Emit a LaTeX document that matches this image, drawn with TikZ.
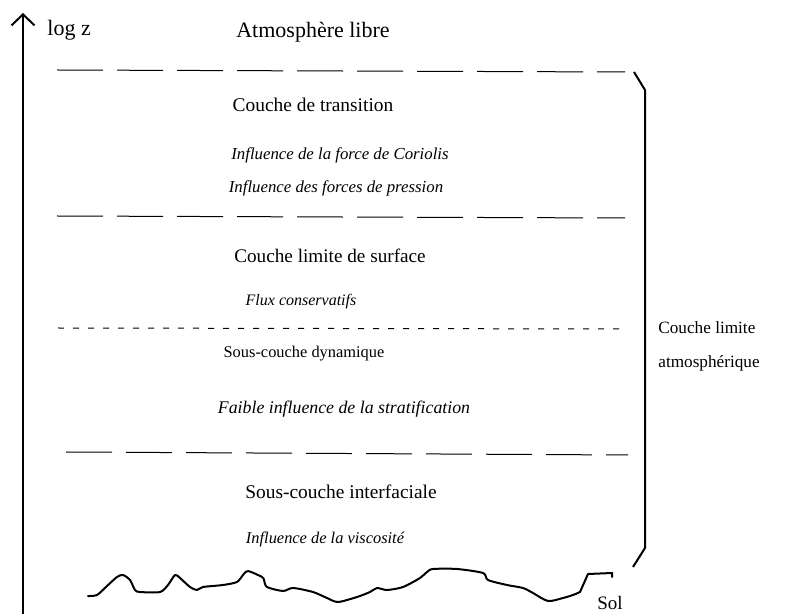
\documentclass[tikz,border=0pt]{standalone}
\usepackage{fontspec}
\setmainfont{Liberation Serif}
\usetikzlibrary{arrows.meta}

\begin{document}
\begin{tikzpicture}[
    x=0.5pt, y=-0.5pt,
    every node/.style={inner sep=0pt},
    layer/.style={anchor=base, font=\fontsize{#1}{12}\selectfont},
    effect/.style={anchor=base, font=\fontsize{#1}{12}\selectfont\itshape},
    side/.style={anchor=base west, font=\fontsize{#1}{12}\selectfont},
    longdash/.style={line width=0.5pt, dash pattern=on 23pt off 7pt},
    shortdash/.style={line width=0.5pt, dash pattern=on 3pt off 4.5pt},
    axis/.style={line width=1pt, -{Straight Barb[length=5.5pt,width=11.5pt]}},
    bracket/.style={line width=1pt, line join=miter},
    ground/.style={line width=1pt, line join=round, line cap=round}
]
\useasboundingbox (0,0) rectangle (787,614);

% Vertical axis
\coordinate (axisbottom) at (23,614);
\coordinate (axistop) at (23,13);
\draw[axis] (axisbottom) -- (axistop);
\node[side=11] (logz) at (47,36) {log z};

% Free atmosphere
\node[layer=11] (libre) at (313,38) {Atmosphère libre};

% Top of the boundary layer
\coordinate (blw) at (57,70);
\coordinate (ble) at (625,72);
\draw[longdash] (blw) -- (ble);

% Transition layer
\node[layer=9.7] (transition) at (313,112) {Couche de transition};
\node[effect=8.4] (coriolis) at (340,160) {Influence de la force de Coriolis};
\node[effect=8.4] (pression) at (336,193) {Influence des forces de pression};

\coordinate (slw) at (57,216);
\coordinate (sle) at (625,218);
\draw[longdash] (slw) -- (sle);

% Surface layer
\node[layer=9.6] (surface) at (330,263) {Couche limite de surface};
\node[effect=8] (flux) at (301,306) {Flux conservatifs};

\coordinate (dynw) at (58,328);
\coordinate (dyne) at (625,329);
\draw[shortdash] (dynw) -- (dyne);

% Dynamic sub-layer
\node[layer=8.2] (dynamique) at (304,358) {Sous-couche dynamique};
\node[effect=8.9] (stratif) at (344,414) {Faible influence de la stratification};

\coordinate (intw) at (66,452);
\coordinate (inte) at (628,455);
\draw[longdash] (intw) -- (inte);

% Interfacial sub-layer
\node[layer=9.7] (interfaciale) at (341,498) {Sous-couche interfaciale};
\node[effect=8.2] (viscosite) at (325,543) {Influence de la viscosité};

% Bracket of the atmospheric boundary layer
\coordinate (brtop) at (634,72);
\coordinate (brupper) at (645,90);
\coordinate (brlower) at (645,548);
\coordinate (brbottom) at (633,567);
\draw[bracket] (brtop) -- (brupper) -- (brlower) -- (brbottom);
\node[side=8.6] (cla1) at (658,334) {Couche limite};
\node[side=8.6] (cla2) at (658,368) {atmosphérique};

% Ground
\draw[ground] plot[smooth, tension=0.45] coordinates {
    (88,596) (97,595) (107,586) (117,577) (123,575) (130,580) (135,590)
    (140,592) (160,592) (168,585) (175,575) (180,578) (190,587) (197,590)
    (203,587) (223,585) (237,582) (243,575) (248,571) (262,577) (264,580)
    (267,587) (283,591) (293,588) (313,592) (327,598) (338,602) (357,597)
    (370,592) (377,588) (387,590) (403,587) (420,578) (427,572) (433,569)
    (457,569) (483,573) (488,580) (507,585) (523,588) (533,593) (548,601)
    (563,598) (573,595) (580,592)}
    -- (588,574) -- (612,573) -- (612,577);
\node[side=9.5] (sol) at (597,609) {Sol};

\end{tikzpicture}
\end{document}
